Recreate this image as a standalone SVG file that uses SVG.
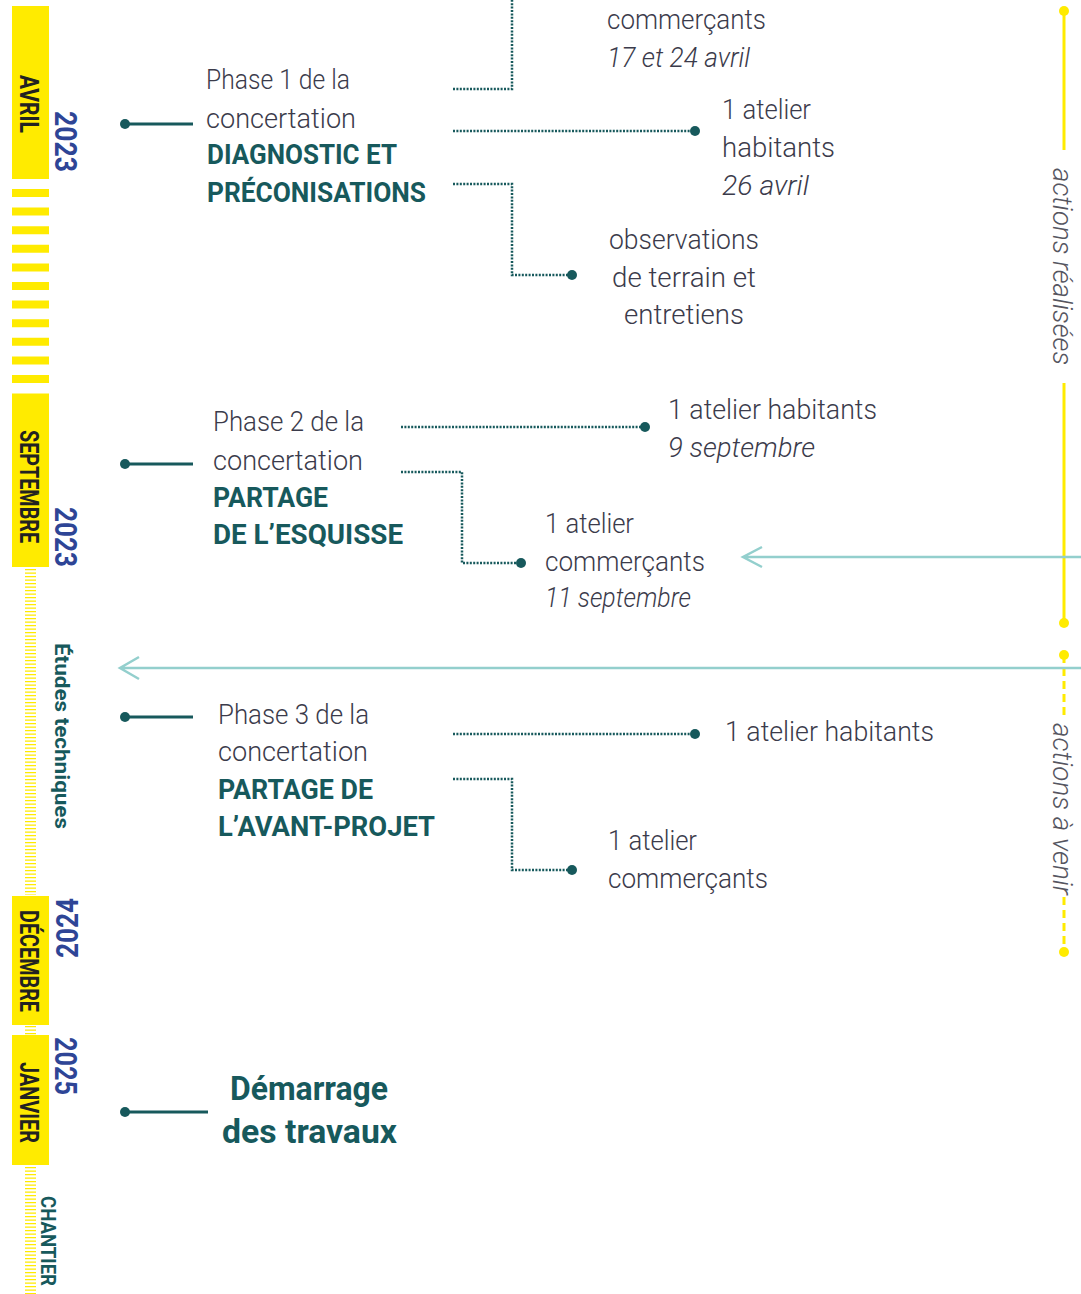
<svg xmlns="http://www.w3.org/2000/svg" width="1081" height="1294" viewBox="0 0 1081 1294">
<defs>
<style>
.lt{font-family:Roboto,"Liberation Sans",sans-serif;font-weight:300;font-size:27px;fill:#3b3b4b}
.it{font-family:Roboto,"Liberation Sans",sans-serif;font-weight:300;font-style:italic;font-size:27px;fill:#3b3b4b}
.bd{font-family:Roboto,"Liberation Sans",sans-serif;font-weight:700;font-size:27px;fill:#17595c}
.big{font-family:Roboto,"Liberation Sans",sans-serif;font-weight:700;font-size:34px;fill:#17595c}
.mo{font-family:Roboto,"Liberation Sans",sans-serif;font-weight:700;font-size:25px;fill:#222222}
.yr{font-family:Roboto,"Liberation Sans",sans-serif;font-weight:700;font-size:32px;fill:#2e4596}
.tl{font-family:Roboto,"Liberation Sans",sans-serif;font-weight:700;font-size:21px;fill:#17595c}
.side{font-family:Roboto,"Liberation Sans",sans-serif;font-weight:300;font-style:italic;font-size:27px;fill:#555560}
.dot{fill:#17595c}
.tick{stroke:#17595c;stroke-width:3;fill:none}
.dl{stroke:#17595c;stroke-width:2.5;fill:none;stroke-dasharray:2 1.4}
.cy{stroke:#93cfcd;stroke-width:2.5;fill:none}
.ys{stroke:#ffeb00;stroke-width:3;fill:none}
.ydash{stroke:#ffeb00;stroke-width:3;fill:none;stroke-dasharray:8 5}
.yf{fill:#ffeb00}
</style>
</defs>

<!-- left timeline -->
<g id="timeline">
<rect class="yf" x="12" y="6" width="37" height="173"/>
<line x1="30.5" y1="189" x2="30.5" y2="400" stroke="#ffeb00" stroke-width="37" stroke-dasharray="8 10.6"/>
<rect class="yf" x="12" y="396" width="37" height="171"/>
<line x1="30.5" y1="569" x2="30.5" y2="895" stroke="#ffeb00" stroke-width="11" stroke-dasharray="1.3 2.2"/>
<rect class="yf" x="12" y="896" width="37" height="129"/>
<line x1="30.5" y1="1026" x2="30.5" y2="1035" stroke="#ffeb00" stroke-width="11" stroke-dasharray="1.3 2.2"/>
<rect class="yf" x="12" y="1035" width="37" height="130"/>
<line x1="30.5" y1="1167" x2="30.5" y2="1294" stroke="#ffeb00" stroke-width="11" stroke-dasharray="1.3 2.2"/>
<text class="mo" transform="translate(20,75) rotate(90)" textLength="58" lengthAdjust="spacingAndGlyphs">AVRIL</text>
<text class="mo" transform="translate(20,430) rotate(90)" textLength="113" lengthAdjust="spacingAndGlyphs">SEPTEMBRE</text>
<text class="mo" transform="translate(20,910) rotate(90)" textLength="102" lengthAdjust="spacingAndGlyphs">DÉCEMBRE</text>
<text class="mo" transform="translate(20,1062) rotate(90)" textLength="81" lengthAdjust="spacingAndGlyphs">JANVIER</text>
<text class="yr" transform="translate(55,111) rotate(90)" textLength="61" lengthAdjust="spacingAndGlyphs">2023</text>
<text class="yr" transform="translate(55,507) rotate(90)" textLength="60" lengthAdjust="spacingAndGlyphs">2023</text>
<text class="yr" transform="translate(78,958) rotate(-90)" textLength="60" lengthAdjust="spacingAndGlyphs">2024</text>
<text class="yr" transform="translate(55,1037) rotate(90)" textLength="58" lengthAdjust="spacingAndGlyphs">2025</text>
<text class="tl" transform="translate(55,643) rotate(90)" textLength="186" lengthAdjust="spacingAndGlyphs">Études techniques</text>
<text class="tl" transform="translate(41,1196) rotate(90)" textLength="90" lengthAdjust="spacingAndGlyphs">CHANTIER</text>
</g>

<!-- right side scale -->
<g id="side-scale">
<line class="ys" x1="1064" y1="11" x2="1064" y2="150"/>
<line class="ys" x1="1064" y1="383" x2="1064" y2="623"/>
<circle class="yf" cx="1064" cy="11" r="5"/>
<circle class="yf" cx="1064" cy="623" r="5"/>
<text class="side" transform="translate(1053,168) rotate(90)" textLength="197" lengthAdjust="spacingAndGlyphs">actions réalisées</text>
<line class="ydash" x1="1064" y1="655" x2="1064" y2="718"/>
<line class="ydash" x1="1064" y1="897" x2="1064" y2="952"/>
<circle class="yf" cx="1064" cy="655" r="5"/>
<circle class="yf" cx="1064" cy="952" r="5"/>
<text class="side" transform="translate(1053,723) rotate(90)" textLength="172" lengthAdjust="spacingAndGlyphs">actions à venir</text>
</g>

<!-- connectors -->
<g id="connectors">
<circle class="dot" cx="125" cy="124" r="5"/><line class="tick" x1="125" y1="124" x2="193" y2="124"/>
<circle class="dot" cx="125" cy="464" r="5"/><line class="tick" x1="125" y1="464" x2="193" y2="464"/>
<circle class="dot" cx="125" cy="717" r="5"/><line class="tick" x1="125" y1="717" x2="193" y2="717"/>
<circle class="dot" cx="125" cy="1112" r="5"/><line class="tick" x1="125" y1="1112" x2="208" y2="1112"/>

<path class="dl" d="M453 89 H512 V0"/>
<path class="dl" d="M453 131 H695"/><circle class="dot" cx="695" cy="131" r="5"/>
<path class="dl" d="M453 184 H512 V275 H572"/><circle class="dot" cx="572" cy="275" r="5"/>

<path class="dl" d="M401 427 H645"/><circle class="dot" cx="645" cy="427" r="5"/>
<path class="dl" d="M401 472 H462 V563 H521"/><circle class="dot" cx="521" cy="563" r="5"/>

<path class="dl" d="M453 734 H695"/><circle class="dot" cx="695" cy="734" r="5"/>
<path class="dl" d="M453 779 H512 V870 H572"/><circle class="dot" cx="572" cy="870" r="5"/>

<path class="cy" d="M1081 557 H743 M762 547 L743 557 L762 567"/>
<path class="cy" d="M1081 668 H120 M139 657 L120 668 L139 679"/>
</g>

<!-- phase 1 -->
<g id="phase1">
<text class="lt" x="206" y="89" textLength="144" lengthAdjust="spacingAndGlyphs">Phase 1 de la</text>
<text class="lt" x="206" y="128" textLength="150" lengthAdjust="spacingAndGlyphs">concertation</text>
<text class="bd" x="207" y="164" textLength="190" lengthAdjust="spacingAndGlyphs">DIAGNOSTIC ET</text>
<text class="bd" x="207" y="202" textLength="219" lengthAdjust="spacingAndGlyphs">PRÉCONISATIONS</text>
</g>
<g id="p1-commercants">
<text class="lt" x="607" y="29" textLength="159" lengthAdjust="spacingAndGlyphs">commerçants</text>
<text class="it" x="607" y="67" textLength="143" lengthAdjust="spacingAndGlyphs">17 et 24 avril</text>
</g>
<g id="p1-habitants">
<text class="lt" x="722" y="119" textLength="89" lengthAdjust="spacingAndGlyphs">1 atelier</text>
<text class="lt" x="722" y="157" textLength="113" lengthAdjust="spacingAndGlyphs">habitants</text>
<text class="it" x="722" y="195" textLength="87" lengthAdjust="spacingAndGlyphs">26 avril</text>
</g>
<g id="p1-observations">
<text class="lt" x="609" y="249" textLength="150" lengthAdjust="spacingAndGlyphs">observations</text>
<text class="lt" x="612" y="287" textLength="144" lengthAdjust="spacingAndGlyphs">de terrain et</text>
<text class="lt" x="624" y="324" textLength="120" lengthAdjust="spacingAndGlyphs">entretiens</text>
</g>

<!-- phase 2 -->
<g id="phase2">
<text class="lt" x="213" y="431" textLength="151" lengthAdjust="spacingAndGlyphs">Phase 2 de la</text>
<text class="lt" x="213" y="470" textLength="150" lengthAdjust="spacingAndGlyphs">concertation</text>
<text class="bd" x="213" y="507" textLength="115" lengthAdjust="spacingAndGlyphs">PARTAGE</text>
<text class="bd" x="213" y="544" textLength="190" lengthAdjust="spacingAndGlyphs">DE L’ESQUISSE</text>
</g>
<g id="p2-habitants">
<text class="lt" x="668" y="419" textLength="209" lengthAdjust="spacingAndGlyphs">1 atelier habitants</text>
<text class="it" x="668" y="457" textLength="147" lengthAdjust="spacingAndGlyphs">9 septembre</text>
</g>
<g id="p2-commercants">
<text class="lt" x="545" y="533" textLength="89" lengthAdjust="spacingAndGlyphs">1 atelier</text>
<text class="lt" x="545" y="571" textLength="160" lengthAdjust="spacingAndGlyphs">commerçants</text>
<text class="it" x="545" y="607" textLength="146" lengthAdjust="spacingAndGlyphs">11 septembre</text>
</g>

<!-- phase 3 -->
<g id="phase3">
<text class="lt" x="218" y="724" textLength="151" lengthAdjust="spacingAndGlyphs">Phase 3 de la</text>
<text class="lt" x="218" y="761" textLength="150" lengthAdjust="spacingAndGlyphs">concertation</text>
<text class="bd" x="218" y="799" textLength="155" lengthAdjust="spacingAndGlyphs">PARTAGE DE</text>
<text class="bd" x="218" y="836" textLength="217" lengthAdjust="spacingAndGlyphs">L’AVANT-PROJET</text>
</g>
<g id="p3-habitants">
<text class="lt" x="725" y="741" textLength="209" lengthAdjust="spacingAndGlyphs">1 atelier habitants</text>
</g>
<g id="p3-commercants">
<text class="lt" x="608" y="850" textLength="89" lengthAdjust="spacingAndGlyphs">1 atelier</text>
<text class="lt" x="608" y="888" textLength="160" lengthAdjust="spacingAndGlyphs">commerçants</text>
</g>

<!-- travaux -->
<g id="travaux">
<text class="big" x="230" y="1100" textLength="158" lengthAdjust="spacingAndGlyphs">Démarrage</text>
<text class="big" x="222" y="1143" textLength="175" lengthAdjust="spacingAndGlyphs">des travaux</text>
</g>
</svg>
